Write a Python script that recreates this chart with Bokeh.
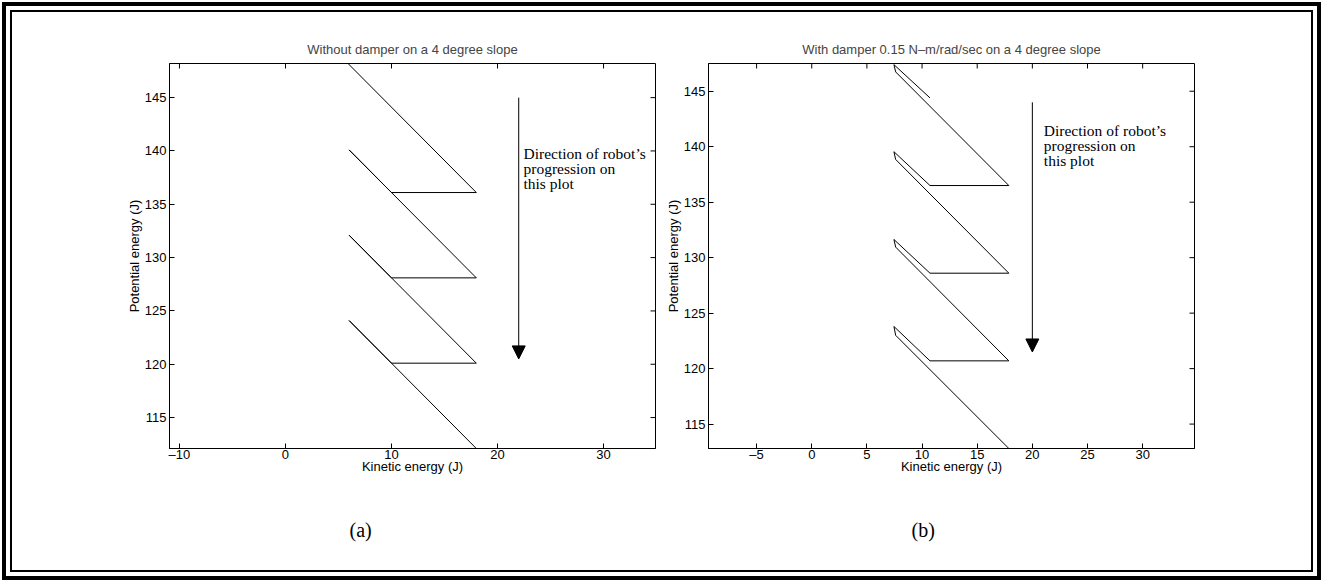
import math
from bokeh.plotting import figure
from bokeh.models import Range1d, FixedTicker, Label, Arrow, NormalHead, Title
from bokeh.layouts import row
from bokeh.embed import file_html
from bokeh.resources import INLINE

# ---------------- data ----------------
# (a) without damper: kinetic vs potential energy trajectory
ke_a = [5.9, 18.0, 10.0, 6.0, 18.0, 10.0, 6.0, 18.0, 10.0, 6.0, 18.0]
pe_a = [148.2, 136.1, 136.1, 140.1, 128.1, 128.1, 132.1, 120.1, 120.1, 124.1, 112.1]

# (b) with damper 0.15 N-m/rad/sec
ke_b = [10.72, 7.45, 7.61, 17.87, 10.72, 7.45, 7.61, 17.87,
        10.72, 7.45, 7.61, 17.87, 10.72, 7.45, 7.61, 17.87]
pe_b = [144.4, 147.4, 146.74, 136.5, 136.5, 139.55, 138.85, 128.6,
        128.6, 131.64, 130.95, 120.7, 120.7, 123.8, 123.0, 112.8]

xticks_a = [-10, 0, 10, 20, 30]
xticks_b = [-5, 0, 5, 10, 15, 20, 25, 30]
yticks = [115, 120, 125, 130, 135, 140, 145]

title_a = "Without damper on a 4 degree slope"
title_b = "With damper 0.15 N\u2013m/rad/sec on a 4 degree slope"
xlabel = "Kinetic energy (J)"
ylabel = "Potential energy (J)"
note = ["Direction of robot\u2019s", "progression on", "this plot"]

SANS = "Liberation Sans"
SERIF = "Liberation Serif"
FS = "13px"


def overrides(ticks):
    return {t: ("\u2013" + str(-t) if t < 0 else str(t)) for t in ticks}


def style_axis(ax, ticks, label_standoff, axis_label_standoff):
    ax.ticker = FixedTicker(ticks=ticks)
    ax.major_tick_in = 5
    ax.major_tick_out = 0
    ax.minor_tick_line_color = None
    ax.axis_line_color = "black"
    ax.axis_line_width = 1
    ax.major_tick_line_color = "black"
    ax.major_label_text_font = SANS
    ax.major_label_text_font_size = FS
    ax.major_label_text_color = "black"
    ax.major_label_standoff = label_standoff
    ax.major_label_overrides = overrides(ticks)
    ax.axis_label_text_font = SANS
    ax.axis_label_text_font_size = FS
    ax.axis_label_text_font_style = "normal"
    ax.axis_label_text_color = "black"
    ax.axis_label_standoff = axis_label_standoff


def panel(width, border_left, border_right, xr, yr, xticks, title, ke, pe,
          arrow_x, arrow_y0, arrow_y1, note_x, note_ys, caption, caption_offset):
    p = figure(width=width, height=582, x_range=Range1d(*xr), y_range=Range1d(*yr),
               output_backend="svg", toolbar_location=None,
               min_border_left=border_left, min_border_right=border_right,
               min_border_top=63, min_border_bottom=134)
    p.background_fill_color = "white"
    p.border_fill_alpha = 0.0
    p.outline_line_color = "black"
    p.outline_line_width = 1
    p.grid.visible = False
    p.title.text = title
    p.title.align = "center"
    p.title.text_font = SANS
    p.title.text_font_size = FS
    p.title.text_font_style = "normal"
    p.title.standoff = 14

    p.xaxis.axis_label = xlabel
    p.yaxis.axis_label = ylabel
    style_axis(p.xaxis[0], xticks, -2, -6)
    style_axis(p.yaxis[0], yticks, 3, 0)

    # inward tick marks on the top and right edges of the box
    p.ray(x=xticks, y=[yr[1]] * len(xticks), length=5, length_units="screen",
          angle=-math.pi / 2, line_color="black", line_width=1)
    p.ray(x=[xr[1]] * len(yticks), y=yticks, length=5, length_units="screen",
          angle=math.pi, line_color="black", line_width=1)

    p.line(ke, pe, line_color="black", line_width=1)

    p.add_layout(Arrow(end=NormalHead(size=13, fill_color="black", line_color="black"),
                       x_start=arrow_x, y_start=arrow_y0, x_end=arrow_x, y_end=arrow_y1,
                       line_color="black", line_width=1))
    for txt, yy in zip(note, note_ys):
        p.add_layout(Label(x=note_x, y=yy, text=txt, text_font=SERIF,
                           text_font_size="15.5px", text_baseline="alphabetic",
                           text_color="black"))

    cap = Title(text=caption, align="left", offset=caption_offset, standoff=80,
                text_font=SERIF, text_font_size="20px", text_font_style="normal",
                text_color="black")
    p.add_layout(cap, "below")
    return p


pa = panel(660, 169, 5, (-10.94, 34.9), (112.1, 148.2), xticks_a, title_a, ke_a, pe_a,
           22.0, 145.0, 120.5, 22.45, [139.75, 138.35, 136.94], "(a)", 180)
pb = panel(663, 48, 129, (-9.36, 34.7), (112.8, 147.5), xticks_b, title_b, ke_b, pe_b,
           20.0, 144.0, 121.5, 21.04, [141.48, 140.13, 138.77], "(b)", 203)

# double page frame: thick outer line, thin inner line
frame_css = ("inset 0 0 0 2px white, inset 0 0 0 6px black, "
             "inset 0 0 0 10px white, inset 0 0 0 12px black")
layout = row(pa, pb, styles={"box-shadow": frame_css, "background-color": "white"})
open("out.html", "w").write(file_html(layout, INLINE))
